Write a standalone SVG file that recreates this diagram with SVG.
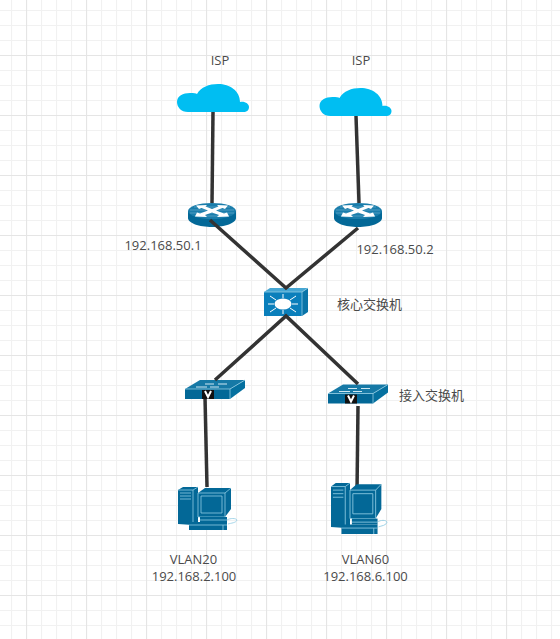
<svg xmlns="http://www.w3.org/2000/svg" width="560" height="639" viewBox="0 0 560 639">
<style>
text{font-family:"Open Sans","Noto Sans CJK SC",sans-serif;font-size:13px;fill:#4a4a4a;text-anchor:middle}
.link{stroke:#333;stroke-width:3.500;fill:none}
.dk{fill:#036897}
.lt{fill:none;stroke:#8fcbe3;stroke-width:.8}
.wh{fill:#fff;stroke:none}
.ray{stroke:#fff;stroke-width:1;fill:none}
.cloud{fill:#00bef2}
</style>
<defs>
<pattern id="minor" width="15" height="15" patternUnits="userSpaceOnUse" x="11" y="10">
<path d="M.5 0V15M0 .5H15" stroke="#f1f1f1" stroke-width="1.200" fill="none"/>
</pattern>
<pattern id="major" width="60" height="60" patternUnits="userSpaceOnUse" x="26" y="55">
<path d="M.5 0V60M0 .5H60" stroke="#e5e5e5" stroke-width="1.200" fill="none"/>
</pattern>
<g id="cloud-shape">
<path class="cloud" d="M11 28C4 28 0 23 0 18C0 12 6 9 13 9C17 9 19 9 20 10C24 3 32 0 41 0C53 0 63 7 63 18C68 17 72 20 72 23C72 26 70 28 66 28Z"/>
</g>
<g id="router-shape">
<path class="dk" d="M0 8V15C0 20 11 24 24 24S48 20 48 15V8Z"/>
<ellipse cx="24" cy="8" rx="24" ry="8" fill="#1a7dab"/>
<path d="M6 4H42M2 7H46M2 10H46M7 13H41" stroke="#6eb3d0" stroke-width=".6" fill="none"/>
<path class="wh" d="M8 2.500L19 2L17.500 3.500L24 6L30.500 3.500L29 2L40 2.500L37 6L34.500 5L28 7.500L36 10.500L39 9.500L41 13.500L29 14L31 12L24 9.500L17 12L19 14L7 13.500L9 9.500L12 10.500L20 7.500L13.500 5L11 6Z"/>
</g>
<g id="access-shape">
<path d="M0 9L15 0H60L45 9Z" fill="#1679a6"/>
<path d="M45 9L60 0V8L45 19Z" fill="#05709f"/>
<rect class="dk" x="0" y="9" width="45" height="10"/>
<path d="M0 9H45L60 0M45 9V19" class="lt"/>
<path d="M11 7H22M25 7H34M20 4H29M33 4H42" stroke="#cfe8f2" stroke-width="1" fill="none"/>
<rect x="17" y="10" width="12" height="9" fill="#111"/>
<path d="M20 11L23 17L26 11" stroke="#fff" stroke-width="2" fill="none"/>
</g>
<g id="pc-shape">
<path class="dk" d="M0 3L5 0H20V38H15L0 37Z"/>
<path d="M0 3H15V37M15 3L20 0M2 6H13M2 9H13M2 12H13" class="lt"/>
<path class="dk" d="M20 6L27 1H53V22L47 30H20Z"/>
<path d="M20 6H47V30H20ZM47 6L53 1M23 9H44V26H23Z" class="lt"/>
<path class="dk" d="M22 30H49V35H22Z"/>
<path class="dk" d="M11 35H49V43H11Z"/>
<path d="M22 33H49M11 38H49M45 38V43" class="lt"/>
<path d="M49 33C52 31 58 31 59 33C58 36 53 36 50 37" class="lt"/>
</g>
</defs>
<rect width="560" height="639" fill="#fff"/>
<rect width="560" height="639" fill="url(#minor)"/>
<rect width="560" height="639" fill="url(#major)"/>
<g id="connectors">
<path class="link" d="M213 112L212 203"/>
<path class="link" d="M356 116L359 203"/>
<path class="link" d="M205 397L207 487"/>
<path class="link" d="M358 406L357 492"/>
</g>
<g id="cloud1"><use href="#cloud-shape" x="177" y="84"/></g>
<g id="cloud2"><use href="#cloud-shape" x="319.500" y="88"/></g>
<g id="router1"><use href="#router-shape" x="188" y="203"/></g>
<g id="router2"><use href="#router-shape" x="334" y="203"/></g>
<g id="core">
<path d="M264 292L270 288H308L302 292Z" fill="#45a6d3"/>
<path d="M302 292L308 288V312L302 316Z" fill="#0a74a8"/>
<rect x="264" y="292" width="38" height="24" fill="#0a7fbb"/>
<path d="M302 292V316M264 292H302L308 288" class="lt"/>
<ellipse cx="283" cy="304" rx="8.500" ry="5.500" fill="#fff"/>
<path class="ray" d="M283 298V294M283 310V314M274 304H268M292 304H298M276 300L270 296M290 300L296 296M276 308L270 312M290 308L296 312"/>
</g>
<g id="access1"><use href="#access-shape" x="185" y="380"/></g>
<g id="access2"><use href="#access-shape" x="328" y="384.500"/></g>
<g id="pc1"><use href="#pc-shape" transform="translate(178 487)"/></g>
<g id="pc2"><use href="#pc-shape" transform="translate(331 483) scale(.95 1.186)"/></g>
<g id="connectors-front">
<path class="link" d="M210 220L286 288L358 228"/>
<path class="link" d="M215 380L286 316L358 384"/>
</g>
<g id="labels">
<text x="220" y="65">ISP</text>
<text x="361" y="65">ISP</text>
<text x="163" y="250">192.168.50.1</text>
<text x="395" y="254">192.168.50.2</text>
<text x="369.500" y="309">核心交换机</text>
<text x="431.500" y="400">接入交换机</text>
<text x="193.500" y="564">VLAN20</text>
<text x="194" y="581">192.168.2.100</text>
<text x="365.500" y="564">VLAN60</text>
<text x="365.500" y="581">192.168.6.100</text>
</g>
</svg>
